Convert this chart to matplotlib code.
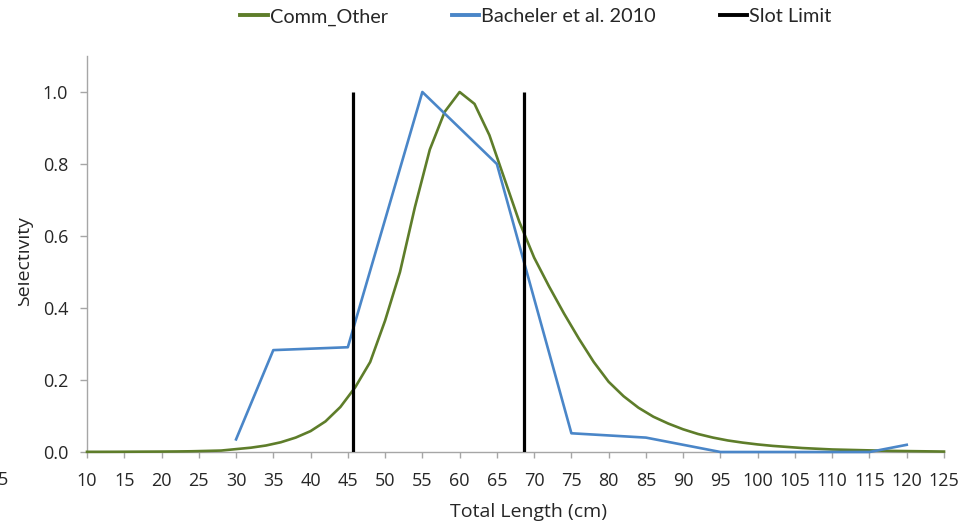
import matplotlib
matplotlib.use("Agg")
import matplotlib.pyplot as plt
from matplotlib.lines import Line2D
from matplotlib.patches import Rectangle
import numpy as np

# Comm_Other selectivity curve (2 cm length bins)
comm_length = [10, 12, 14, 16, 18, 20, 22, 24, 26, 28, 30, 32, 34, 36, 38, 40,
               42, 44, 46, 48, 50, 52, 54, 56, 58, 60, 62, 64, 66, 68, 70, 72,
               74, 76, 78, 80, 82, 84, 86, 88, 90, 92, 94, 96, 98, 100, 102,
               104, 106, 108, 110, 112, 114, 116, 118, 120, 122, 124, 125]
comm_sel = [0.0005, 0.0005, 0.0006, 0.0008, 0.001, 0.0012, 0.0015, 0.002,
            0.003, 0.004, 0.008, 0.012, 0.018, 0.027, 0.040, 0.058, 0.085,
            0.125, 0.18, 0.25, 0.365, 0.50, 0.68, 0.84, 0.945, 1.0, 0.967,
            0.88, 0.76, 0.64, 0.54, 0.46, 0.385, 0.315, 0.25, 0.195, 0.155,
            0.123, 0.098, 0.079, 0.063, 0.050, 0.040, 0.032, 0.026, 0.021,
            0.017, 0.014, 0.011, 0.009, 0.007, 0.006, 0.005, 0.004, 0.003,
            0.0025, 0.002, 0.0015, 0.0012]

# Bacheler et al. 2010 selectivity
bach_length = [30, 35, 45, 55, 65, 75, 85, 95, 105, 115, 120]
bach_sel = [0.035, 0.283, 0.291, 1.0, 0.80, 0.052, 0.040, 0.0, 0.0, 0.0, 0.020]

# Slot limit (18 in and 27 in, in cm)
slot_length = [45.72, 68.58]
slot_top = 1.0

x_ticks = list(range(10, 130, 5))
y_ticks = [0.0, 0.2, 0.4, 0.6, 0.8, 1.0]

green = "#5E7D2A"
blue = "#4A86C8"
axis_grey = "#A6A6A6"
text_col = "#262626"

plt.rcParams["font.family"] = ["Open Sans", "DejaVu Sans"]

W, H = 965, 527
fig = plt.figure(figsize=(W / 100, H / 100), dpi=100)
ax = fig.add_axes([87 / W, 1 - 452 / H, (944 - 87) / W, (452 - 56) / H])

ax.plot(comm_length, comm_sel, color=green, lw=1.9, clip_on=False,
        solid_joinstyle="round", zorder=3)
ax.plot(bach_length, bach_sel, color=blue, lw=1.9, clip_on=False,
        solid_joinstyle="round", zorder=4)
ax.vlines(slot_length, 0, slot_top, color="black", lw=2.3, zorder=5)

ax.set_xlim(10, 125)
ax.set_ylim(0, 1.1)
ax.set_xticks(x_ticks)
ax.set_xticklabels([str(v) for v in x_ticks])
ax.set_yticks(y_ticks)
ax.set_yticklabels([f"{v:.1f}" for v in y_ticks])

for side in ("top", "right"):
    ax.spines[side].set_visible(False)
for side in ("left", "bottom"):
    ax.spines[side].set_color(axis_grey)
    ax.spines[side].set_linewidth(1.0)

ax.tick_params(axis="x", direction="out", length=4.5, width=1.0,
               color=axis_grey, pad=10, labelsize=13, labelcolor=text_col)
ax.tick_params(axis="y", direction="out", length=5, width=1.0,
               color=axis_grey, pad=8.5, labelsize=13, labelcolor=text_col)

# axis titles
fig.text(528 / W, 1 - 512 / H, "Total Length (cm)", ha="center", va="center",
         fontsize=14, color=text_col)
fig.text(24 / W, 1 - 261 / H, "Selectivity", ha="center", va="center",
         rotation=90, fontsize=14, color=text_col)
# the left edge of the canvas trims the top of the vertical title
fig.add_artist(Rectangle((0, 1 - 330 / H), 17.5 / W, 150 / H,
                         transform=fig.transFigure, facecolor="white",
                         edgecolor="none", zorder=10))
fig.text(8.5 / W, 1 - 480 / H, "5", ha="right", va="center", fontsize=13,
         color=text_col)

handles = [Line2D([], [], color=green, lw=2.8),
           Line2D([], [], color=blue, lw=2.8),
           Line2D([], [], color="black", lw=2.8)]
labels = ["Comm_Other", "Bacheler et al. 2010", "Slot Limit"]
fig.legend(handles, labels, loc="center", bbox_to_anchor=(536 / W, 1 - 17 / H),
           ncol=3, frameon=False, handlelength=1.4, handletextpad=0.1,
           columnspacing=3.2, prop={"family": ["Lato", "DejaVu Sans"], "size": 14.3},
           labelcolor=text_col)

fig.savefig("out.png", dpi=100, facecolor="white")
